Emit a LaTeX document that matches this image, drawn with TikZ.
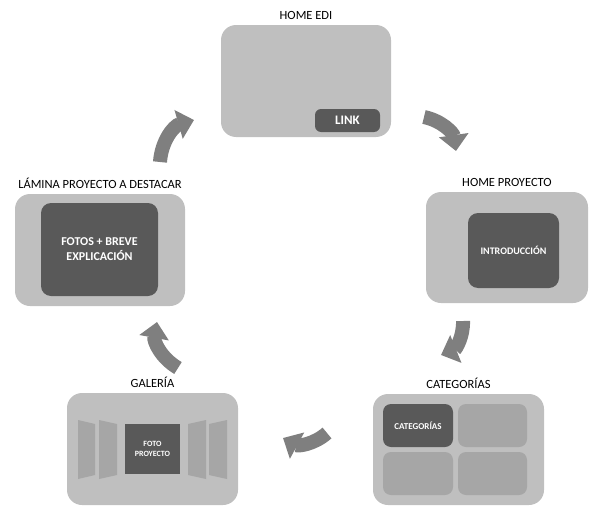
\documentclass[tikz,border=0pt]{standalone}
\usepackage{fontspec}
\setmainfont{Carlito}
\usepackage{tikz}
\usetikzlibrary{arrows.meta,positioning}
\definecolor{boxgray}{HTML}{BFBFBF}
\definecolor{darkgray}{HTML}{595959}
\definecolor{cellgray}{HTML}{A6A6A6}
\definecolor{arrgray}{HTML}{7F7F7F}
\tikzset{
  outbox/.style={rectangle,fill=boxgray,rounded corners=15pt,inner sep=0pt},
  innbox/.style={rectangle,fill=darkgray,rounded corners=10pt,inner sep=0pt,text=white,font=\bfseries,align=center},
  cellbox/.style={rectangle,fill=cellgray,rounded corners=8pt,inner sep=0pt},
  ttl/.style={label distance=2pt,font=\fontsize{12.5}{14}\selectfont},
  cyclearrow/.style={arrgray,line width=14pt,-{Triangle[width=29pt,length=16pt]}},
  panel/.style={fill=cellgray},
}
\begin{document}
\begin{tikzpicture}[x=1pt,y=-1pt]
  \useasboundingbox (0,0) rectangle (592,506);
  \node[outbox,minimum width=170pt,minimum height=112pt,label={[ttl]above:HOME EDI}] (nEdi) at (306,81) {};
  \node[innbox,rounded corners=6pt,minimum width=65pt,minimum height=23pt,font=\bfseries\fontsize{13}{14}\selectfont] (nLink) at (347.5,120.5) {LINK};
  \node[outbox,minimum width=162pt,minimum height=111pt,label={[ttl]above:HOME PROYECTO}] (nProy) at (507,247.5) {};
  \node[innbox,minimum width=91pt,minimum height=75pt,font=\bfseries\fontsize{10}{11}\selectfont] (nIntro) at (513.5,250.5) {INTRODUCCIÓN};
  \node[outbox,minimum width=171pt,minimum height=111pt,label={[ttl]above:CATEGORÍAS}] (nCat) at (458.5,449.5) {};
  \node[innbox,rounded corners=8pt,minimum width=70pt,minimum height=43pt,font=\bfseries\fontsize{9}{10}\selectfont] (nCatA) at (418,425.5) {CATEGORÍAS};
  \node[cellbox,minimum width=69pt,minimum height=43pt] (nCatB) at (492.5,425.5) {};
  \node[cellbox,minimum width=70pt,minimum height=43pt] (nCatC) at (418,473.5) {};
  \node[cellbox,minimum width=69pt,minimum height=43pt] (nCatD) at (492.5,473.5) {};
  \node[outbox,minimum width=171pt,minimum height=112pt,label={[ttl]above:GALERÍA}] (nGal) at (152.5,449) {};
  \node[innbox,rounded corners=0pt,minimum width=55pt,minimum height=50pt,font=\bfseries\fontsize{8}{10}\selectfont] (nFoto) at (152.5,449) {FOTO\\PROYECTO};
  \fill[panel] (78,420) -- (95,424) -- (95,475) -- (78,479) -- cycle;
  \fill[panel] (99,420) -- (117,424) -- (117,475) -- (99,479) -- cycle;
  \fill[panel] (188,424) -- (206,420) -- (206,479) -- (188,475) -- cycle;
  \fill[panel] (209,424) -- (227,420) -- (227,479) -- (209,475) -- cycle;
  \node[outbox,minimum width=170pt,minimum height=112pt,label={[ttl]above:LÁMINA PROYECTO A DESTACAR}] (nLam) at (100,250) {};
  \node[innbox,minimum width=117pt,minimum height=93pt,font=\bfseries\fontsize{12}{15}\selectfont] (nFotos) at (99.5,249.5) {FOTOS + BREVE\\EXPLICACIÓN};
  \coordinate (t1) at (160,162);
  \coordinate (h1) at (194,120);
  \coordinate (t2) at (424,117);
  \coordinate (h2) at (456,151);
  \coordinate (t3) at (463,321);
  \coordinate (h3) at (441,355);
  \coordinate (t4) at (327,433);
  \coordinate (h4) at (283,438);
  \coordinate (t5) at (178,368);
  \coordinate (h5) at (157,322);
  \draw[cyclearrow] (t1) to[bend left=35] (h1);
  \draw[cyclearrow] (t2) to[bend left=35] (h2);
  \draw[cyclearrow] (t3) to[bend left=35] (h3);
  \draw[cyclearrow] (t4) to[bend left=35] (h4);
  \draw[cyclearrow] (t5) to[bend left=35] (h5);
\end{tikzpicture}
\end{document}
